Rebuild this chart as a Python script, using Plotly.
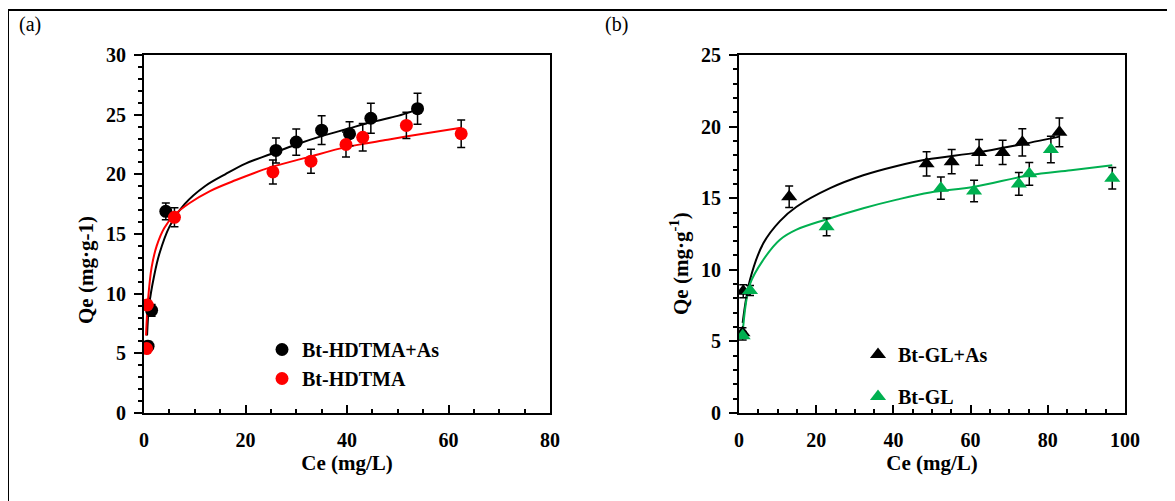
import plotly.graph_objects as go

# ---------------- Panel (a) data ----------------
a_as_ce = [0.8, 1.5, 4.3, 26.0, 30.0, 35.0, 40.5, 44.7, 53.9]
a_as_qe = [5.6, 8.6, 16.9, 22.0, 22.7, 23.7, 23.4, 24.7, 25.5]
a_as_err = [0.4, 0.5, 0.7, 1.05, 1.1, 1.2, 1.0, 1.25, 1.3]

a_ce = [0.5, 0.65, 6.0, 25.4, 32.9, 39.8, 43.1, 51.7, 62.5]
a_qe = [5.4, 9.05, 16.4, 20.2, 21.1, 22.5, 23.1, 24.1, 23.4]
a_err = [0.3, 0.4, 0.8, 1.0, 1.0, 1.05, 1.15, 1.1, 1.15]

# fitted curves
a_as_fit_ce = [0.6, 1, 2, 3, 5, 8, 12, 16, 20, 25, 30, 35, 40, 45, 50, 53]
a_as_fit_qe = [6.5, 9.0, 11.5, 13.3, 15.6, 17.5, 19.0, 20.0, 20.9, 21.7, 22.5, 23.2, 23.8, 24.4, 24.9, 25.3]
a_fit_ce = [0.4, 0.8, 1.5, 2.5, 4, 6, 9, 13, 18, 25, 32, 40, 48, 55, 62.5]
a_fit_qe = [6.5, 9.5, 12.2, 14.0, 15.5, 16.6, 17.6, 18.6, 19.5, 20.6, 21.4, 22.3, 22.9, 23.4, 23.9]

# ---------------- Panel (b) data ----------------
b_as_ce = [0.9, 1.1, 13.0, 48.6, 55.1, 62.2, 68.3, 73.4, 83.0]
b_as_qe = [5.6, 8.5, 15.1, 17.4, 17.55, 18.2, 18.2, 18.9, 19.6]
b_as_err = [0.35, 0.45, 0.75, 0.85, 0.85, 0.9, 0.85, 0.95, 1.0]

b_ce = [0.95, 2.85, 22.7, 52.3, 60.9, 72.5, 75.2, 80.8, 96.7]
b_qe = [5.4, 8.55, 13.0, 15.7, 15.5, 16.0, 16.7, 18.4, 16.4]
b_err = [0.3, 0.35, 0.62, 0.78, 0.75, 0.8, 0.8, 0.93, 0.75]

b_as_fit_ce = [0.95, 2.85, 6.3, 10.6, 14.9, 23.6, 32.2, 40.9, 48.6, 62, 72, 83]
b_as_fit_qe = [6.3, 9.3, 11.85, 13.4, 14.4, 15.7, 16.6, 17.25, 17.7, 18.2, 18.7, 19.3]
b_fit_ce = [0.95, 2.85, 6.3, 10.6, 14.9, 22.4, 32.2, 40.9, 49.5, 61, 75.2, 86, 96.7]
b_fit_qe = [5.6, 9.0, 10.7, 12.1, 12.8, 13.5, 14.3, 14.9, 15.4, 15.8, 16.6, 16.95, 17.3]

names_a = ["Bt-HDTMA+As", "Bt-HDTMA"]
names_b = ["Bt-GL+As", "Bt-GL"]
ytitle_a = "Qe (mg·g-1)"
ytitle_b = "Qe (mg·g<sup>-1</sup>)"
xtitle = "Ce (mg/L)"

GREEN = "#00B050"
RED = "#FF0000"
FONT = "Liberation Serif"

fig = go.Figure()

def err(vals):
    return dict(type="data", array=vals, visible=True, color="black", thickness=1.5, width=4)

# curves
fig.add_trace(go.Scatter(x=a_as_fit_ce, y=a_as_fit_qe, mode="lines", line=dict(color="black", width=2, shape="spline"),
                         showlegend=False, xaxis="x", yaxis="y", hoverinfo="skip"))
fig.add_trace(go.Scatter(x=a_fit_ce, y=a_fit_qe, mode="lines", line=dict(color=RED, width=2, shape="spline"),
                         showlegend=False, xaxis="x", yaxis="y", hoverinfo="skip"))
fig.add_trace(go.Scatter(x=b_as_fit_ce, y=b_as_fit_qe, mode="lines", line=dict(color="black", width=2, shape="spline"),
                         showlegend=False, xaxis="x2", yaxis="y2", hoverinfo="skip"))
fig.add_trace(go.Scatter(x=b_fit_ce, y=b_fit_qe, mode="lines", line=dict(color=GREEN, width=2, shape="spline"),
                         showlegend=False, xaxis="x2", yaxis="y2", hoverinfo="skip"))

# points
fig.add_trace(go.Scatter(x=a_as_ce, y=a_as_qe, mode="markers", name=names_a[0],
                         marker=dict(color="black", size=13, symbol="circle"),
                         error_y=err(a_as_err), xaxis="x", yaxis="y", legend="legend"))
fig.add_trace(go.Scatter(x=a_ce, y=a_qe, mode="markers", name=names_a[1],
                         marker=dict(color=RED, size=13, symbol="circle"),
                         error_y=err(a_err), xaxis="x", yaxis="y", legend="legend"))
fig.add_trace(go.Scatter(x=b_as_ce, y=b_as_qe, mode="markers", name=names_b[0],
                         marker=dict(color="black", size=14, symbol="triangle-up"),
                         error_y=err(b_as_err), xaxis="x2", yaxis="y2", legend="legend2", legendgroup="g1"))
fig.add_trace(go.Scatter(x=b_ce, y=b_qe, mode="markers", name=names_b[1],
                         marker=dict(color=GREEN, size=14, symbol="triangle-up"),
                         error_y=err(b_err), xaxis="x2", yaxis="y2", legend="legend2", legendgroup="g2"))

# the page body adds an 8 px offset; figure coordinates are screen coordinates minus 8
OFF = 8
W, H = 1175 - OFF, 501 - OFF
def px(x):
    return (x - OFF) / W
def py(y):
    return 1 - (y - OFF) / H

tickfont = dict(family=FONT, size=20, color="black", weight="bold")
titlefont = dict(family=FONT, size=21, color="black", weight="bold")

def xaxis(dom, rng, dtick, anchor):
    return dict(domain=dom, range=rng, dtick=dtick, tick0=0, anchor=anchor, automargin=False,
                showgrid=False, zeroline=False, showline=True, linecolor="black", linewidth=2,
                mirror=True, ticks="inside", ticklen=8, tickwidth=2, tickcolor="black",
                minor=dict(ticks="inside", ticklen=4, tickwidth=1.5, dtick=5, tickcolor="black"),
                tickfont=tickfont, ticklabelstandoff=8,
                title=dict(text=xtitle, font=titlefont, standoff=4))

def yaxis(dom, rng, dtick, anchor):
    return dict(domain=dom, range=rng, dtick=dtick, tick0=0, anchor=anchor, automargin=False,
                showgrid=False, zeroline=False, showline=True, linecolor="black", linewidth=2,
                mirror=True, ticks="outside", ticklen=8, tickwidth=2, tickcolor="black",
                minor=dict(ticks="outside", ticklen=4, tickwidth=1.5, dtick=1, tickcolor="black"),
                tickfont=tickfont, ticklabelstandoff=4)

ydom = [py(413), py(55)]
fig.update_layout(
    template="none",
    width=W, height=H,
    margin=dict(l=0, r=0, t=0, b=0, autoexpand=False),
    paper_bgcolor="white", plot_bgcolor="white",
    xaxis=xaxis([px(144), px(550)], [0, 80], 20, "y"),
    yaxis=yaxis(ydom, [0, 30], 5, "x"),
    xaxis2=xaxis([px(739), px(1125)], [0, 100], 20, "y2"),
    yaxis2=yaxis(ydom, [0, 25], 5, "x2"),
    legend=dict(x=px(262), y=py(330), xanchor="left", yanchor="top", bgcolor="rgba(0,0,0,0)",
                font=dict(family=FONT, size=20, color="black", weight="bold"), itemwidth=30),
    legend2=dict(x=px(858), y=py(335), xanchor="left", yanchor="top", bgcolor="rgba(0,0,0,0)",
                 font=dict(family=FONT, size=20, color="black", weight="bold"), itemwidth=30,
                 tracegroupgap=13),
    shapes=[
        dict(type="line", xref="paper", yref="paper", x0=px(8), x1=px(8), y0=0, y1=py(10),
             line=dict(color="black", width=2)),
        dict(type="line", xref="paper", yref="paper", x0=px(8), x1=1, y0=py(10), y1=py(10),
             line=dict(color="black", width=2)),
    ],
    annotations=[
        dict(text="(a)", x=px(17), y=py(24), xref="paper", yref="paper", xanchor="left", yanchor="middle",
             showarrow=False, font=dict(family=FONT, size=20, color="black")),
        dict(text="(b)", x=px(603), y=py(24), xref="paper", yref="paper", xanchor="left", yanchor="middle",
             showarrow=False, font=dict(family=FONT, size=20, color="black")),
        dict(text=ytitle_a, x=px(86), y=py(270), xref="paper", yref="paper", xanchor="center", yanchor="middle",
             textangle=-90, showarrow=False, font=titlefont),
        dict(text=ytitle_b, x=px(679), y=py(264), xref="paper", yref="paper", xanchor="center", yanchor="middle",
             textangle=-90, showarrow=False, font=titlefont),
    ],
)

fig.write_html("out.html")
